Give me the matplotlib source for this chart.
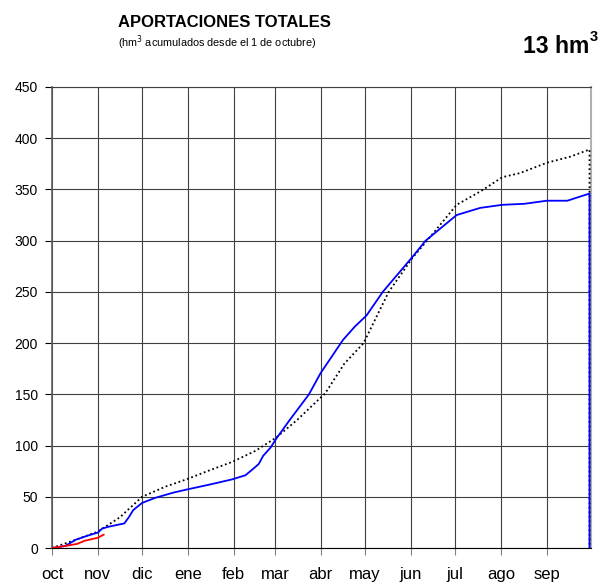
import matplotlib
matplotlib.use("Agg")
import matplotlib.pyplot as plt

months = ["oct", "nov", "dic", "ene", "feb", "mar", "abr", "may", "jun", "jul", "ago", "sep"]
month_days = [31, 30, 31, 31, 28, 31, 30, 31, 30, 31, 31, 30]

# x in days since 1 October
media_x = [0, 16, 31, 46, 61, 77, 91, 107, 122, 138, 152, 166, 185, 198, 211, 228,
           244, 254, 274, 290, 305, 317, 335, 351, 364, 364]
media_y = [0, 8, 16, 30, 50, 60, 67, 76, 84, 95, 108, 125, 151, 180, 200, 250,
           283, 300, 335, 348, 362, 366, 376, 382, 389, 0]

anterior_x = [0, 9, 16, 24, 31, 34, 39, 49, 52, 55, 61, 70, 82, 91, 107, 122,
              131, 136, 140, 143, 148, 152, 161, 174, 182, 190, 197, 205, 213, 224,
              244, 253, 274, 290, 305, 320, 335, 349, 364, 364]
anterior_y = [0, 2, 8, 12, 15, 19, 21, 24, 30, 37, 44, 49, 54, 57, 62, 67,
              71, 77, 82, 90, 98, 107, 125, 150, 171, 188, 203, 216, 227, 250,
              284, 300, 325, 332, 335, 336, 339, 339, 346, 0]

actual_x = [0, 9, 17, 22, 31, 35]
actual_y = [0, 2, 4, 7, 10, 13]

yticks = [0, 50, 100, 150, 200, 250, 300, 350, 400, 450]

plt.rcParams['font.family'] = ['Liberation Sans', 'DejaVu Sans']

fig = plt.figure(figsize=(6.15, 5.87), dpi=100)
ax = fig.add_axes([52/615, 1 - 548/587, (591 - 52)/615, (548 - 87)/587])

ax.plot(media_x, media_y, color='black', linestyle=(0, (1, 1.5)), linewidth=1.3, zorder=3)
ax.plot(anterior_x, anterior_y, color='#0000ff', linewidth=1.3, zorder=4)
ax.plot(actual_x, actual_y, color='#ff0000', linewidth=1.3, zorder=5)

starts = [0]
for d in month_days:
    starts.append(starts[-1] + d)

ax.set_xlim(0, starts[-1])
ax.set_ylim(0, 450)
ax.set_yticks(yticks)
ax.set_yticklabels([str(v) for v in yticks], fontsize=10)
ax.set_xticks(starts[:-1])
ax.set_xticklabels(months, fontsize=12)
ax.grid(True, color='#404040', linewidth=0.8)
ax.set_axisbelow(True)
ax.tick_params(axis='x', length=5, color='#808080', pad=9)
ax.tick_params(axis='y', length=5, color='black', pad=5)
ax.spines['left'].set_color('#606060')
ax.spines['left'].set_linewidth(1.2)
ax.spines['bottom'].set_color('black')
ax.spines['top'].set_color('#404040')
ax.spines['right'].set_color('#b0b0b0')
ax.spines['right'].set_linewidth(1.5)

fig.text(118/615, 1 - 27/587, "APORTACIONES TOTALES", fontsize=12, fontweight='bold', ha='left', va='baseline')
fig.text(118/615, 1 - 47/587, "(hm$^3$ acumulados desde el 1 de octubre)", fontsize=7.8, ha='left', va='baseline')
fig.text(589/615, 1 - 53/587, "13 hm", fontsize=16.5, fontweight='bold', ha='right', va='baseline')
fig.text(590/615, 1 - 41/587, "3", fontsize=10.5, fontweight='bold', ha='left', va='baseline')

fig.savefig("out.png", dpi=100)
